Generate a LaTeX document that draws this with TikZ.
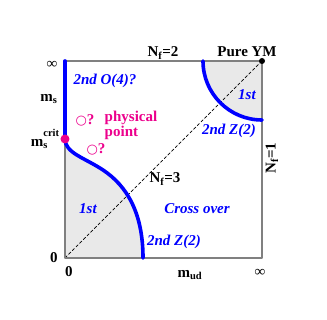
\documentclass[tikz,border=0pt]{standalone}
\usepackage{fontspec}
\setmainfont{Liberation Serif}
\newfontfamily\pdSymFont{DejaVu Sans}
\usetikzlibrary{calc}

\begin{document}
\begin{tikzpicture}[x=1pt, y=1pt, line cap=round, line join=round]

% ---------- styles (safe names) ----------
\tikzset{
  pdFrame/.style  ={draw=gray, line width=1.3pt},
  pdShade/.style  ={fill=gray!17},
  pdDiag/.style   ={draw, line width=0.7pt, dash pattern=on 3pt off 2.2pt},
  pdLine/.style   ={draw=blue, line width=3.6pt},
  pdPhase/.style  ={text=blue, font=\fontsize{15}{17}\selectfont\bfseries\itshape, inner sep=0pt},
  pdAxis/.style   ={font=\fontsize{15}{17}\selectfont\bfseries, inner sep=0pt},
  pdPhys/.style   ={text=magenta, font=\fontsize{15}{15}\selectfont\bfseries, inner sep=0pt}
}

% ---------- page margins ----------
\useasboundingbox (-65,-62) rectangle (262,258);

% Reference anchors
\coordinate (origin) at (0,0);
\coordinate (pureYM) at (197,197);
\coordinate (msCrit) at (0,119);
\coordinate (topLeft) at (0,197);
\coordinate (lowEnd) at (78,0);
\coordinate (highStart) at (138,197);

% ---------- first order regions (shaded) ----------
\path[pdShade]
  (msCrit) .. controls (0,105) and (20,100) .. (38,88)
  .. controls (62,72) and (78,45) .. (lowEnd) -- (origin) -- cycle;
\path[pdShade]
  (highStart) arc[start angle=180, end angle=270, radius=59] -- (pureYM) -- cycle;

% N_f=3 diagonal
\draw[pdDiag] (origin) -- (pureYM);

% Frame
\path[pdFrame] (origin) rectangle (pureYM);

% ---------- critical lines ----------
\draw[pdLine] (topLeft) -- (msCrit);
\draw[pdLine]
  (msCrit) .. controls (0,105) and (20,100) .. (38,88)
  .. controls (62,72) and (78,45) .. (lowEnd);
\draw[pdLine]
  (highStart) arc[start angle=180, end angle=270, radius=59];

% Markers
\fill[magenta] (msCrit) circle (4.5);
\fill[black] (pureYM) circle (3);

% ---------- labels ----------
\node[pdAxis] (pureYMlabel) at (182,206) {Pure YM};
\node[pdAxis, anchor=base] (nfTwo) at (98,201) {N\textsubscript{f}=2};
\node[pdAxis, rotate=90] (nfOne) at (207,100) {N\textsubscript{f}=1};
\node[pdAxis] (nfThree) at (100,79) {N\textsubscript{f}=3};

\node[pdPhase] (firstLow)   at (23,49)   {1st};
\node[pdPhase] (secondLow)  at (109,16)  {2nd Z(2)};
\node[pdPhase] (crossOver)  at (132,49)  {Cross over};
\node[pdPhase] (firstHigh)  at (182,163) {1st};
\node[pdPhase] (secondHigh) at (164,127) {2nd Z(2)};
\node[pdPhase] (secondOfour) at (40,177) {2nd O(4)?};

\node[pdPhys, align=left] (physPoint) at (66,133) {physical\\point};
\node[pdPhys] (physA) at (20,138) {{\pdSymFont\mdseries\fontsize{13}{13}\selectfont ○}?};
\node[pdPhys] (physB) at (31,109) {{\pdSymFont\mdseries\fontsize{13}{13}\selectfont ○}?};

% Axes
\node[pdAxis] (axInfY)    at (-13,193) {∞};
\node[pdAxis] (axMs)      at (-16,159) {m\textsubscript{s}};
\node[pdAxis] (axMsCrit)  at (-20,119)
  {m\rlap{\textsubscript{s}}\raisebox{0.62em}{\fontsize{10.5}{10.5}\selectfont crit}};
\node[pdAxis] (axZeroY)   at (-11,0)   {0};
\node[pdAxis] (axZeroX)   at (4,-14)   {0};
\node[pdAxis] (axMud)     at (125,-17) {m\textsubscript{ud}};
\node[pdAxis] (axInfX)    at (195,-15) {∞};

\end{tikzpicture}
\end{document}
